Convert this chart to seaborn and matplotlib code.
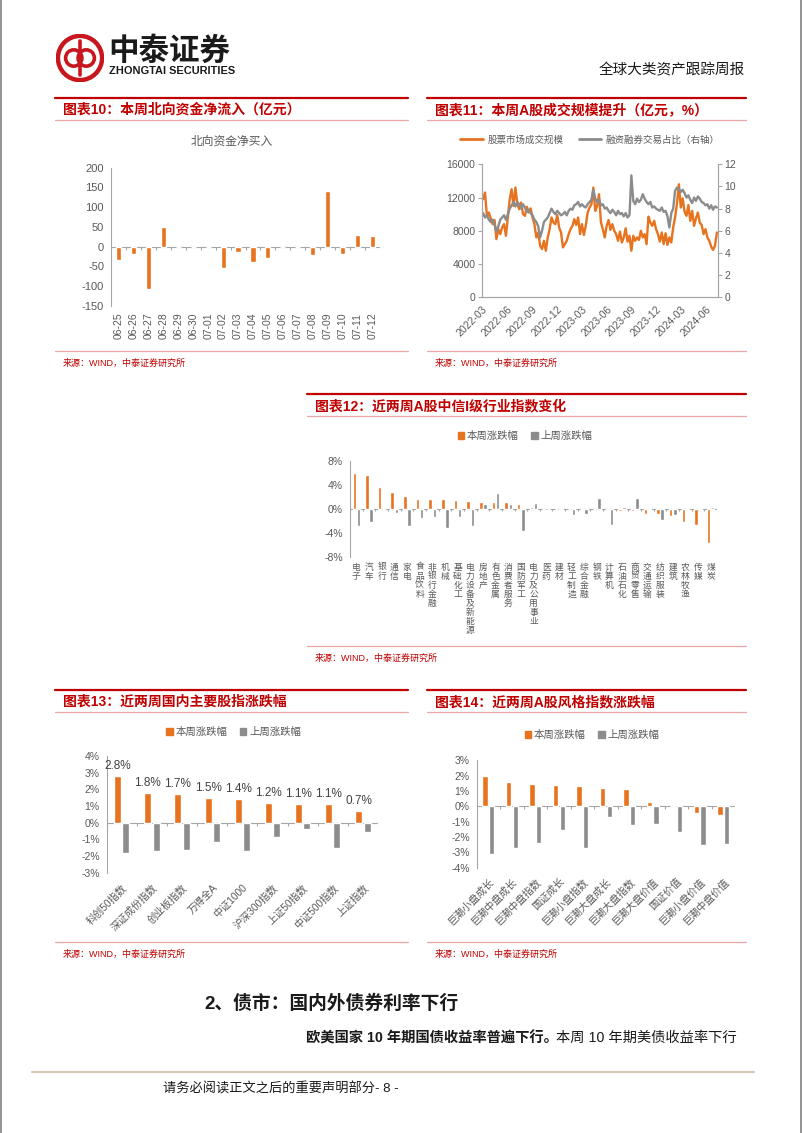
import numpy as np
import pandas as pd
import matplotlib
matplotlib.use("Agg")
import matplotlib.pyplot as plt
import matplotlib.patches as mpatches
from matplotlib.lines import Line2D
from matplotlib.ticker import FuncFormatter
import seaborn as sns

# ── data ──────────────────────────────────────────────────────────────────────
flow_dates = ["06-25", "06-26", "06-27", "06-28", "06-29", "06-30", "07-01", "07-02", "07-03",
              "07-04", "07-05", "07-06", "07-07", "07-08", "07-09", "07-10", "07-11", "07-12"]
flow_vals = [-33, -19, -108, 49, 0, 0, 0, -54, -14, -40, -30, 0, 0, -22, 140, -18, 30, 27]

# weekly readings (Fridays), 2022-03 .. 2024-07
week_dates = pd.date_range("2022-03-04", "2024-07-12", freq="W-FRI")
turnover = [11800, 12600, 9800, 10200,
            9500, 8800, 9300, 7000, 8200,
            7600, 8400, 8800, 7400,
            9600, 11800, 13000, 11000,
            13200, 11200, 10600, 11400, 10000,
            9800, 10900, 10200, 10700,
            9600, 8800, 7200, 7800, 6200,
            5800, 6800, 5600, 7200,
            8200, 9600, 9000, 8800,
            9900, 8400, 7800, 6000, 6400,
            6800, 7600, 8200, 8600,
            9400, 8700, 9600, 7600,
            8800, 7500, 8600, 10200, 10800,
            11200, 13200, 10400, 11000,
            12400, 9000, 8200, 7200,
            8600, 9300, 8100, 8800, 8000,
            7600, 6800, 7900, 6600,
            7200, 8300, 6700, 7400,
            5600, 7400, 6800, 7200, 6900,
            8000, 7200, 7600, 6400,
            9700, 9000, 8600, 9200,
            8200, 7600, 6700, 7800, 6400,
            7700, 6300, 7200, 6600,
            8400, 9600, 11300, 13600,
            10800, 11900, 10300, 9800, 11100,
            9200, 10400, 8600, 9500,
            10200, 9000, 8700, 7600, 8200,
            7200, 6800, 6100, 5700,
            6200, 7800]
margin_share = [7.6, 7.2, 7.4, 7.0,
                6.8, 7.0, 6.6, 5.9, 6.4,
                7.0, 7.2, 7.4, 7.0,
                7.5, 8.0, 8.3, 8.6,
                8.2, 8.6, 8.4, 8.0, 8.4,
                8.1, 7.7, 7.9, 7.6,
                7.4, 7.0, 6.8, 6.4, 5.4,
                6.0, 6.8, 7.0, 7.2,
                7.6, 8.0, 7.7, 7.5,
                7.8, 7.6, 7.4, 7.5, 7.7,
                7.4, 7.8, 8.0, 7.9,
                8.3, 8.4, 8.6, 8.2,
                8.4, 8.2, 8.1, 8.4, 8.6,
                8.8, 9.7, 8.9, 8.6,
                8.8, 8.3, 8.4, 8.0,
                8.1, 7.8, 7.6, 7.9, 7.7,
                7.4, 7.8, 7.5, 7.6,
                7.3, 7.6, 7.2, 7.4,
                11.0, 8.7, 8.4, 8.9, 8.6,
                8.8, 9.3, 8.9, 8.6,
                8.4, 8.6, 8.1, 8.2,
                8.0, 7.9, 7.8, 8.1, 7.7,
                7.8, 7.3, 6.3, 7.6,
                8.0, 9.6, 9.9, 9.8,
                9.5, 9.7, 9.4, 9.0, 9.2,
                8.8, 8.5, 9.0, 8.7,
                9.1, 8.9, 8.6, 8.5, 8.3,
                8.4, 8.0, 8.3, 7.9,
                8.2, 8.1]

ind_names = ["电子", "汽车", "银行", "通信", "家电", "食品饮料", "非银行金融", "机械", "基础化工",
             "电力设备及新能源", "房地产", "有色金属", "消费者服务", "国防军工", "电力及公用事业",
             "医药", "建材", "轻工制造", "综合金融", "钢铁", "计算机", "石油石化", "商贸零售",
             "交通运输", "纺织服装", "建筑", "农林牧渔", "传媒", "煤炭"]
ind_this = [6.0, 5.6, 3.7, 2.85, 2.1, 1.7, 1.65, 1.6, 1.5, 1.35, 1.25, 1.1, 1.1, 0.9, 0.3,
            0.05, -0.05, 0.0, 0.0, 0.0, -0.1, -0.4, -0.4, -0.8, -0.9, -1.2, -2.1, -2.6, -5.7]
ind_last = [-2.9, -2.1, -0.1, -0.7, -2.8, -1.5, -1.4, -3.2, -1.3, -2.85, 0.8, 2.7, 0.8, -3.7, 1.05,
            0.05, -0.15, -1.0, -0.8, 1.9, -2.6, 0.4, 1.9, -0.15, -1.8, -1.0, 0.25, -0.1, 0.4]

idx_names = ["科创50指数", "深证成份指数", "创业板指数", "万得全A", "中证1000",
             "沪深300指数", "上证50指数", "中证500指数", "上证指数"]
idx_this = [2.8, 1.8, 1.7, 1.5, 1.4, 1.2, 1.1, 1.1, 0.7]
idx_last = [-1.82, -1.70, -1.62, -1.16, -1.70, -0.88, -0.36, -1.52, -0.56]

style_names = ["巨潮小盘成长", "巨潮中盘成长", "巨潮中盘指数", "国证成长", "巨潮小盘指数",
               "巨潮大盘成长", "巨潮大盘指数", "巨潮大盘价值", "国证价值", "巨潮小盘价值", "巨潮中盘价值"]
style_this = [2.0, 1.57, 1.43, 1.39, 1.35, 1.17, 1.15, 0.30, 0.0, -0.43, -0.54]
style_last = [-3.1, -2.7, -2.41, -1.52, -2.72, -0.72, -1.2, -1.17, -1.67, -2.54, -2.48]

SERIES = ["本周涨跌幅", "上周涨跌幅"]

# ── style ─────────────────────────────────────────────────────────────────────
ORANGE, GRAY = "#E8731E", "#8C8C8C"
RED, PINK = "#C00000", "#E9A7A7"
AXC, TXT = "#A6A6A6", "#595959"

sns.set_style("white")
plt.rcParams["font.family"] = ["Liberation Sans", "Noto Sans CJK SC", "DejaVu Sans"]
plt.rcParams["axes.unicode_minus"] = False

W, H = 802, 1133
fig = plt.figure(figsize=(W / 100, H / 100), dpi=100)


def fx(x): return x / W
def fy(y): return 1 - y / H


def add_ax(l, t, r, b):
    return fig.add_axes([fx(l), fy(b), (r - l) / W, (b - t) / H])


def hline(x0, x1, y, color, lw):
    fig.add_artist(Line2D([fx(x0), fx(x1)], [fy(y), fy(y)], color=color, lw=lw,
                          transform=fig.transFigure))


def ftext(x, y, s, **kw):
    fig.text(fx(x), fy(y), s, **kw)


def section(x0, x1, y_top, title, y_src):
    hline(x0, x1, y_top, RED, 1.6)
    ftext(x0 + 8, y_top + 12, title, color=RED, fontsize=10, fontweight="bold", va="center")
    hline(x0, x1, y_top + 22, PINK, 0.9)
    hline(x0, x1, y_src - 12, PINK, 0.9)
    ftext(x0 + 8, y_src, "来源：WIND，中泰证券研究所", color=RED, fontsize=6.5, va="center")


pct = FuncFormatter(lambda v, p: f"{v:.0f}%")


def style_bars(ax, n, ylim, yticks):
    ax.set_ylim(*ylim)
    ax.set_yticks(yticks)
    ax.set_xlim(-0.5, n - 0.5)
    for s in ["top", "right", "bottom"]:
        ax.spines[s].set_visible(False)
    ax.spines["left"].set_color(AXC)
    ax.spines["left"].set_linewidth(0.8)
    ax.axhline(0, color=AXC, lw=0.8, zorder=0.5)
    t = (ylim[1] - ylim[0]) * 0.025
    ax.vlines(np.arange(-0.5, n), 0, -t, color=AXC, lw=0.8)
    ax.tick_params(axis="y", length=3, color=AXC, labelsize=7.5, labelcolor=TXT, pad=2)
    ax.tick_params(axis="x", length=0, labelcolor=TXT)
    ax.set_xlabel("")
    ax.set_ylabel("")


def grouped(ax, names, this, last, width, gap):
    df = pd.DataFrame({"name": names + names, "val": this + last,
                       "series": [SERIES[0]] * len(names) + [SERIES[1]] * len(names)})
    sns.barplot(data=df, x="name", y="val", hue="series", hue_order=SERIES,
                palette=[ORANGE, GRAY], width=width, gap=gap, saturation=1,
                legend=False, ax=ax)


def square_legend(cx, cy):
    handles = [mpatches.Patch(color=ORANGE), mpatches.Patch(color=GRAY)]
    fig.legend(handles, SERIES, loc="center", bbox_to_anchor=(fx(cx), fy(cy)),
               ncol=2, frameon=False, fontsize=7.5, labelcolor=TXT, handlelength=0.6,
               handleheight=0.6, handletextpad=0.3, columnspacing=1.2)


# ── page frame / header ───────────────────────────────────────────────────────
for x in (0.6, W - 0.6):
    fig.add_artist(Line2D([fx(x), fx(x)], [0, 1], color="#808080", lw=1.2, transform=fig.transFigure))

logo = add_ax(56, 34, 104, 82)
logo.set_xlim(0, 1); logo.set_ylim(0, 1); logo.set_aspect("equal"); logo.axis("off")
logo.add_patch(mpatches.Circle((0.5, 0.5), 0.46, fill=False, ec="#C8161E", lw=3.2))
logo.add_patch(mpatches.Circle((0.37, 0.5), 0.17, fill=False, ec="#C8161E", lw=2.6))
logo.add_patch(mpatches.Circle((0.63, 0.5), 0.17, fill=False, ec="#C8161E", lw=2.6))
logo.plot([0.5, 0.5], [0.14, 0.86], color="#C8161E", lw=2.6)

ftext(108, 52, "中泰证券", fontsize=22, fontweight="bold", color="#1A1A1A", va="center")
ftext(109, 71, "ZHONGTAI SECURITIES", fontsize=7.9, fontweight="bold", color="#1A1A1A",
      va="center")
ftext(745, 70, "全球大类资产跟踪周报", fontsize=10.5, color="#1A1A1A", ha="right", va="center",
      fontweight="medium")

# ── chart 10 ──────────────────────────────────────────────────────────────────
section(55, 408, 98, "图表10：本周北向资金净流入（亿元）", 363)
ftext(232, 142, "北向资金净买入", fontsize=8.5, color=TXT, ha="center", va="center")
ax10 = add_ax(111, 167.7, 380, 305.7)
sns.barplot(x=flow_dates, y=flow_vals, color=ORANGE, width=0.34, saturation=1, ax=ax10)
style_bars(ax10, len(flow_dates), (-150, 200), range(-150, 201, 50))
ax10.tick_params(axis="y", labelsize=8)
ax10.tick_params(axis="x", labelrotation=90, labelsize=7.5, pad=5)

# ── chart 11 ──────────────────────────────────────────────────────────────────
section(427, 746, 98, "图表11：本周A股成交规模提升（亿元，%）", 363)
ax11 = add_ax(482.3, 164.3, 717.7, 297.3)
sns.lineplot(x=week_dates, y=turnover, color=ORANGE, lw=1.7, ax=ax11)
ax11.set_ylim(0, 16000)
ax11.set_yticks(range(0, 16001, 4000))
ax11b = ax11.twinx()
sns.lineplot(x=week_dates, y=margin_share, color=GRAY, lw=1.7, ax=ax11b)
ax11b.set_ylim(0, 12)
ax11b.set_yticks(range(0, 13, 2))
xt = pd.date_range("2022-03-01", "2024-06-01", freq="3MS")
ax11.set_xlim(pd.Timestamp("2022-03-01"), pd.Timestamp("2024-07-15"))
ax11.set_xticks(xt)
ax11.set_xticklabels([d.strftime("%Y-%m") for d in xt], rotation=45, ha="right",
                     rotation_mode="anchor")
for a in (ax11, ax11b):
    a.set_xlabel(""); a.set_ylabel("")
    a.spines["top"].set_visible(False)
    for s in ["left", "right", "bottom"]:
        a.spines[s].set_color(AXC)
        a.spines[s].set_linewidth(0.8)
    a.tick_params(length=3, color=AXC, labelsize=7.5, labelcolor=TXT, pad=2)
fig.legend([Line2D([], [], color=ORANGE, lw=2), Line2D([], [], color=GRAY, lw=2)],
           ["股票市场成交规模", "融资融券交易占比（右轴）"], loc="center",
           bbox_to_anchor=(fx(590), fy(140)), ncol=2, frameon=False, fontsize=6.8,
           labelcolor=TXT, handlelength=2.4, columnspacing=1.6, handletextpad=0.5)

# ── chart 12 ──────────────────────────────────────────────────────────────────
section(307, 746, 394, "图表12：近两周A股中信I级行业指数变化", 658)
square_legend(525, 436)
ax12 = add_ax(350, 461, 717, 557)
grouped(ax12, ind_names, ind_this, ind_last, 0.66, 0.18)
style_bars(ax12, len(ind_names), (-8, 8), [-8, -4, 0, 4, 8])
ax12.yaxis.set_major_formatter(pct)
ax12.set_xticks(range(len(ind_names)))
ax12.set_xticklabels(["\n".join(n) for n in ind_names], fontsize=6.3, va="top",
                     linespacing=1.0)
ax12.tick_params(axis="x", pad=4)

# ── chart 13 ──────────────────────────────────────────────────────────────────
section(55, 408, 690, "图表13：近两周国内主要股指涨跌幅", 954)
square_legend(234, 732)
ax13 = add_ax(106.7, 756, 378, 872.7)
grouped(ax13, idx_names, idx_this, idx_last, 0.55, 0.15)
style_bars(ax13, len(idx_names), (-3, 4), range(-3, 5))
ax13.yaxis.set_major_formatter(pct)
ax13.bar_label(ax13.containers[0], labels=[f"{v:.1f}%" for v in idx_this], padding=3,
               fontsize=8.5, color="#404040")
ax13.set_xticks(range(len(idx_names)))
ax13.set_xticklabels(idx_names, rotation=45, ha="right", rotation_mode="anchor", fontsize=7.3)
ax13.tick_params(axis="x", pad=7)

# ── chart 14 ──────────────────────────────────────────────────────────────────
section(427, 746, 690, "图表14：近两周A股风格指数涨跌幅", 954)
square_legend(592, 735)
ax14 = add_ax(476.7, 760.3, 735, 867.7)
grouped(ax14, style_names, style_this, style_last, 0.57, 0.2)
style_bars(ax14, len(style_names), (-4, 3), range(-4, 4))
ax14.yaxis.set_major_formatter(pct)
ax14.set_xticks(range(len(style_names)))
ax14.set_xticklabels(style_names, rotation=45, ha="right", rotation_mode="anchor", fontsize=7.3)
ax14.tick_params(axis="x", pad=6)

# ── body text / footer ────────────────────────────────────────────────────────
ftext(204, 1004, "2、债市：国内外债券利率下行", fontsize=13.5, fontweight="bold",
      color="#1A1A1A", va="center")
ftext(306, 1038, "欧美国家 10 年期国债收益率普遍下行。", fontsize=10.3, fontweight="bold",
      color="#1A1A1A", va="center")
ftext(556, 1038, "本周 10 年期美债收益率下行", fontsize=10.3, color="#1A1A1A", va="center")
hline(32, 754, 1072, "#D6C7B5", 1.5)
ftext(163, 1089, "请务必阅读正文之后的重要声明部分- 8 -", fontsize=9.5, color="#1A1A1A",
      va="center", fontweight="medium")

fig.savefig("out.png", dpi=100)
